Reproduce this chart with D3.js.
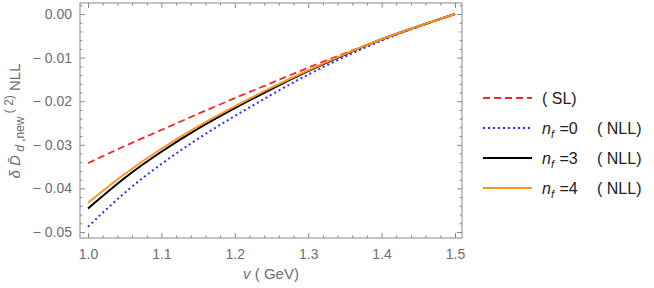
<!DOCTYPE html>
<html>
<head>
<meta charset="utf-8">
<script src="https://cdn.jsdelivr.net/npm/d3@7"></script>
<style>
  body { margin: 0; background: #fff; }
  text { font-family: "Liberation Sans", Arial, sans-serif; fill: #6e6e6e; }
  .axis path { display: none; }
  .axis line { stroke: #8a8a8a; }
</style>
</head>
<body>
<div id="chart"></div>
<script>
(function() {
  var width = 654,
      height = 288;

  // values
  var vValues = [1.0, 1.05, 1.1, 1.15, 1.2, 1.25, 1.3, 1.35, 1.4, 1.45, 1.5];
  var slValues  = [-0.0342, -0.0303, -0.0266, -0.0229, -0.0193, -0.0158, -0.0123, -0.0090, -0.0059, -0.0029, 0];
  var nf0Values = [-0.0488, -0.0410, -0.0344, -0.0286, -0.0234, -0.0185, -0.0139, -0.0098, -0.0061, -0.0029, 0];
  var nf3Values = [-0.0446, -0.0376, -0.0316, -0.0263, -0.0216, -0.0172, -0.0131, -0.0093, -0.0058, -0.0028, 0];
  var nf4Values = [-0.0433, -0.0367, -0.0309, -0.0258, -0.0212, -0.0169, -0.0129, -0.0092, -0.0058, -0.0028, 0];

  var xTicks = [1.0, 1.1, 1.2, 1.3, 1.4, 1.5];
  var yTicks = [0, -0.01, -0.02, -0.03, -0.04, -0.05];
  var yTickLabels = ["0.00", "\u2212 0.01", "\u2212 0.02", "\u2212 0.03", "\u2212 0.04", "\u2212 0.05"];

  var frame = {left: 80, right: 462, top: 3, bottom: 238};

  var svg = d3.select("#chart")
        .append("svg")
        .attr("width", width)
        .attr("height", height);

  var x = d3.scaleLinear().domain([1.0, 1.5]).range([88, 455]);
  var y = d3.scaleLinear().domain([0, -0.05]).range([14, 232]);

  var xMinor = d3.range(1.0, 1.5001, 0.02).filter(function(d) {
    return xTicks.every(function(t) { return Math.abs(t - d) > 1e-6; });
  });
  var yMinor = d3.range(0.002, -0.0501, -0.002).filter(function(d) {
    return yTicks.every(function(t) { return Math.abs(t - d) > 1e-6; });
  });

  // frame
  svg.append("rect")
    .attr("x", frame.left)
    .attr("y", frame.top)
    .attr("width", frame.right - frame.left)
    .attr("height", frame.bottom - frame.top)
    .attr("fill", "none")
    .attr("stroke", "#8a8a8a")
    .attr("stroke-width", 1);

  // ticks, pointing inward on all four sides
  function ticks(axisFn, scale, values, size, pos, labels) {
    var a = axisFn(scale).tickValues(values).tickSize(-size).tickPadding(8);
    if (labels) a.tickFormat(labels); else a.tickFormat("");
    return svg.append("g").attr("class", "axis").attr("transform", pos).call(a);
  }

  var bx = ticks(d3.axisBottom, x, xTicks, 5, "translate(0," + frame.bottom + ")", d3.format(".1f"));
  ticks(d3.axisBottom, x, xMinor, 2.5, "translate(0," + frame.bottom + ")");
  ticks(d3.axisTop, x, xTicks, 5, "translate(0," + frame.top + ")");
  ticks(d3.axisTop, x, xMinor, 2.5, "translate(0," + frame.top + ")");

  var ly = ticks(d3.axisLeft, y, yTicks, 5, "translate(" + frame.left + ",0)", function(d, i) { return yTickLabels[i]; });
  ticks(d3.axisLeft, y, yMinor, 2.5, "translate(" + frame.left + ",0)");
  ticks(d3.axisRight, y, yTicks, 5, "translate(" + frame.right + ",0)");
  ticks(d3.axisRight, y, yMinor, 2.5, "translate(" + frame.right + ",0)");

  bx.selectAll("text").attr("font-size", 14).attr("fill", "#6e6e6e").attr("dy", "0.9em");
  ly.selectAll("text").attr("font-size", 14).attr("fill", "#6e6e6e");

  // curves
  var series = [
    {name: "sl",  values: slValues,  color: "#ee2a2a", dash: "7,4", width: 1.8},
    {name: "nf0", values: nf0Values, color: "#2b2bf5", dash: "2,3", width: 2},
    {name: "nf3", values: nf3Values, color: "#000000", dash: null, width: 2},
    {name: "nf4", values: nf4Values, color: "#ff9421", dash: null, width: 2}
  ];

  var line = d3.line()
    .x(function(d, i) { return x(vValues[i]); })
    .y(function(d) { return y(d); })
    .curve(d3.curveNatural);

  svg.selectAll(".curve")
    .data(series)
    .enter().append("path")
    .attr("class", "curve")
    .attr("d", function(d) { return line(d.values); })
    .attr("fill", "none")
    .attr("stroke", function(d) { return d.color; })
    .attr("stroke-width", function(d) { return d.width; })
    .attr("stroke-dasharray", function(d) { return d.dash; });

  // axis labels
  var xl = svg.append("text")
    .attr("x", 271)
    .attr("y", 279)
    .attr("text-anchor", "middle")
    .attr("font-size", 15);
  xl.append("tspan").attr("font-style", "italic").text("v");
  xl.append("tspan").text("  ( GeV)");

  var yl = svg.append("text")
    .attr("transform", "translate(20,121) rotate(-90)")
    .attr("text-anchor", "middle")
    .attr("font-size", 15);
  yl.append("tspan").attr("font-style", "italic").text("\u03b4");
  yl.append("tspan").attr("font-style", "italic").text(" D\u0304");
  yl.append("tspan").attr("font-size", 12).attr("dy", 4).attr("font-style", "italic").text(" d");
  yl.append("tspan").attr("font-size", 12).text(" ,new");
  yl.append("tspan").attr("font-size", 12).attr("dy", -11).text(" ( 2)");
  yl.append("tspan").attr("dy", 7).text(" NLL");

  // legend
  var legendNames = ["", "0", "3", "4"];
  var legendY = d3.scalePoint().domain(d3.range(4)).range([98, 188]);

  var lg = svg.selectAll(".legend")
    .data(series)
    .enter().append("g")
    .attr("class", "legend")
    .attr("transform", function(d, i) { return "translate(0," + legendY(i) + ")"; });

  lg.append("line")
    .attr("x1", 483).attr("x2", 532)
    .attr("stroke", function(d) { return d.color; })
    .attr("stroke-width", function(d) { return d.width; })
    .attr("stroke-dasharray", function(d) { return d.dash; });

  lg.each(function(d, i) {
    var g = d3.select(this);
    if (i === 0) {
      g.append("text").attr("x", 542).attr("y", 6).attr("font-size", 16)
        .style("fill", "#222").text("( SL)");
      return;
    }
    var t = g.append("text").attr("x", 542).attr("y", 6).attr("font-size", 16).style("fill", "#222");
    t.append("tspan").attr("font-style", "italic").text("n");
    t.append("tspan").attr("font-style", "italic").attr("font-size", 11).attr("dy", 4).text("f");
    t.append("tspan").attr("x", 555).attr("dy", -4).text(" =" + legendNames[i]);
    g.append("text").attr("x", 597).attr("y", 6).attr("font-size", 16)
      .style("fill", "#222").text("( NLL)");
  });
})()
</script>
</body>
</html>
